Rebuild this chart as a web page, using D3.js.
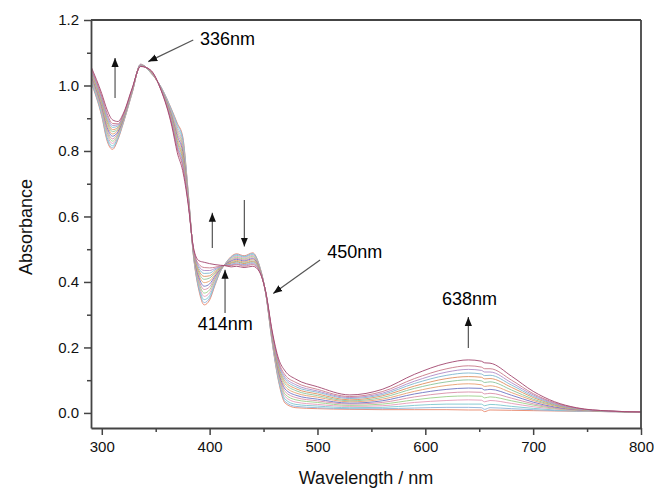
<!DOCTYPE html>
<html>
<head>
<meta charset="utf-8">
<script src="https://cdn.jsdelivr.net/npm/d3@7"></script>
<style>
  html, body { margin: 0; padding: 0; background: #fff; }
  svg { display: block; font-family: "Liberation Sans", Arial, sans-serif; }
</style>
</head>
<body>
<svg id="chart" width="654" height="488"></svg>
<script>
// ---- Data ----
const wavelengths = [290,300,305,310,315,320,328,336,345,355,365,370,375,380,385,390,395,400,405,410,414,420,425,432,440,446,452,458,464,470,480,500,530,560,590,620,640,652,655,660,680,700,720,740,770,800];

const scan0  = [1.010,0.905,0.830,0.805,0.835,0.885,0.975,1.065,1.040,0.995,0.925,0.885,0.845,0.680,0.480,0.375,0.330,0.345,0.390,0.432,0.453,0.478,0.486,0.480,0.489,0.452,0.365,0.215,0.095,0.030,0.016,0.013,0.011,0.010,0.010,0.010,0.009,0.009,0.004,0.009,0.008,0.007,0.006,0.005,0.004,0.003];
const scan1  = [1.012,0.909,0.835,0.810,0.838,0.887,0.976,1.065,1.040,0.995,0.923,0.881,0.840,0.678,0.481,0.380,0.337,0.351,0.393,0.433,0.453,0.476,0.484,0.478,0.487,0.451,0.365,0.217,0.099,0.035,0.020,0.016,0.013,0.013,0.015,0.017,0.017,0.016,0.011,0.016,0.013,0.010,0.007,0.006,0.004,0.003];
const scan2  = [1.016,0.913,0.841,0.816,0.842,0.889,0.977,1.064,1.041,0.994,0.919,0.874,0.832,0.675,0.483,0.386,0.346,0.358,0.398,0.434,0.453,0.474,0.481,0.476,0.484,0.450,0.366,0.219,0.103,0.042,0.026,0.021,0.016,0.017,0.023,0.027,0.027,0.027,0.022,0.026,0.020,0.014,0.009,0.006,0.004,0.003];
const scan3  = [1.020,0.919,0.849,0.823,0.846,0.891,0.978,1.064,1.042,0.993,0.915,0.867,0.824,0.672,0.485,0.393,0.356,0.367,0.403,0.436,0.452,0.472,0.478,0.473,0.481,0.448,0.366,0.222,0.109,0.050,0.033,0.026,0.020,0.022,0.032,0.038,0.040,0.039,0.034,0.038,0.029,0.019,0.012,0.007,0.004,0.003];
const scan4  = [1.023,0.925,0.857,0.830,0.850,0.893,0.979,1.063,1.042,0.992,0.911,0.860,0.816,0.669,0.487,0.400,0.366,0.376,0.408,0.437,0.452,0.469,0.475,0.470,0.478,0.446,0.366,0.225,0.115,0.057,0.040,0.032,0.023,0.027,0.040,0.050,0.052,0.051,0.046,0.049,0.037,0.024,0.014,0.008,0.005,0.003];
const scan5  = [1.027,0.930,0.864,0.837,0.855,0.896,0.980,1.063,1.043,0.991,0.907,0.853,0.807,0.666,0.489,0.407,0.377,0.385,0.413,0.439,0.452,0.466,0.472,0.467,0.474,0.445,0.367,0.228,0.120,0.065,0.047,0.037,0.027,0.032,0.049,0.061,0.064,0.063,0.058,0.060,0.045,0.028,0.016,0.009,0.005,0.003];
const scan6  = [1.031,0.936,0.872,0.845,0.859,0.898,0.982,1.062,1.044,0.991,0.903,0.845,0.799,0.662,0.491,0.415,0.387,0.394,0.418,0.440,0.452,0.464,0.469,0.464,0.471,0.443,0.367,0.230,0.126,0.073,0.054,0.042,0.030,0.037,0.058,0.072,0.076,0.075,0.070,0.072,0.054,0.033,0.018,0.010,0.005,0.003];
const scan7  = [1.035,0.941,0.879,0.852,0.864,0.901,0.983,1.061,1.044,0.990,0.899,0.838,0.790,0.659,0.493,0.422,0.398,0.403,0.423,0.442,0.451,0.461,0.466,0.461,0.468,0.442,0.368,0.233,0.131,0.081,0.061,0.048,0.034,0.042,0.066,0.084,0.089,0.086,0.081,0.083,0.062,0.038,0.021,0.011,0.005,0.003];
const scan8  = [1.039,0.947,0.887,0.859,0.868,0.903,0.984,1.061,1.045,0.989,0.895,0.831,0.782,0.656,0.495,0.429,0.408,0.412,0.428,0.443,0.451,0.459,0.463,0.458,0.464,0.440,0.368,0.236,0.137,0.089,0.068,0.053,0.037,0.047,0.075,0.095,0.101,0.098,0.093,0.095,0.070,0.042,0.023,0.012,0.005,0.003];
const scan9  = [1.042,0.952,0.894,0.865,0.872,0.905,0.985,1.060,1.045,0.988,0.892,0.825,0.775,0.653,0.497,0.435,0.417,0.419,0.432,0.445,0.451,0.457,0.461,0.456,0.462,0.439,0.368,0.238,0.142,0.096,0.074,0.058,0.040,0.052,0.082,0.105,0.111,0.109,0.104,0.105,0.078,0.047,0.025,0.012,0.005,0.003];
const scan10 = [1.046,0.957,0.900,0.872,0.876,0.907,0.986,1.060,1.046,0.988,0.888,0.818,0.767,0.650,0.499,0.442,0.426,0.427,0.437,0.446,0.451,0.454,0.458,0.453,0.459,0.437,0.369,0.241,0.147,0.103,0.080,0.063,0.044,0.056,0.090,0.115,0.122,0.119,0.114,0.115,0.085,0.051,0.027,0.013,0.005,0.003];
const scan11 = [1.049,0.962,0.907,0.878,0.880,0.909,0.987,1.059,1.046,0.987,0.885,0.812,0.760,0.648,0.500,0.448,0.435,0.435,0.441,0.447,0.451,0.452,0.455,0.451,0.456,0.436,0.369,0.243,0.152,0.109,0.086,0.067,0.047,0.060,0.097,0.125,0.133,0.130,0.125,0.125,0.092,0.055,0.029,0.014,0.006,0.003];
const scan12 = [1.052,0.967,0.914,0.884,0.883,0.911,0.988,1.059,1.047,0.986,0.881,0.806,0.753,0.645,0.502,0.454,0.444,0.443,0.445,0.449,0.450,0.450,0.453,0.448,0.453,0.434,0.369,0.246,0.157,0.116,0.093,0.072,0.050,0.065,0.105,0.135,0.144,0.140,0.135,0.135,0.100,0.059,0.031,0.015,0.006,0.003];
const scan13 = [1.058,0.975,0.925,0.895,0.890,0.915,0.990,1.058,1.048,0.985,0.875,0.795,0.740,0.640,0.505,0.465,0.460,0.456,0.453,0.451,0.450,0.446,0.448,0.444,0.448,0.432,0.370,0.250,0.165,0.128,0.103,0.080,0.055,0.072,0.118,0.152,0.162,0.158,0.153,0.152,0.112,0.066,0.034,0.016,0.006,0.003];

const scans = [scan0,scan1,scan2,scan3,scan4,scan5,scan6,scan7,scan8,scan9,scan10,scan11,scan12,scan13];
const scanColors = ["#e8866a","#8fb3d9","#7cc7cf","#e59ab8","#9ccf8a","#d88fa8","#6f74c2","#e8a070","#8cc49a","#e09060","#80b8d0","#b08cc8","#c97a8a","#a2466e"];

const xMajorTicks = [300,400,500,600,700,800];
const xMinorTicks = [350,450,550,650,750];
const yMajorTicks = [0.0,0.2,0.4,0.6,0.8,1.0,1.2];
const yMinorTicks = [0.1,0.3,0.5,0.7,0.9,1.1];

// annotation labels and their positions in data units (wavelength, absorbance)
const annotationLabels = ["336nm","414nm","450nm","638nm"];
const annotationTextPos = [[391,1.124],[389,0.253],[509,0.473],[615.5,0.330]];
// arrows: [fromW, fromA, toW, toA]
const arrows = [
  [384.8,1.139,343.1,1.073],
  [312.3,0.962,312.3,1.084],
  [402.5,0.504,402.5,0.611],
  [432.2,0.650,432.2,0.508],
  [414.3,0.305,414.3,0.437],
  [502.4,0.467,459.0,0.365],
  [639.9,0.198,639.9,0.293]
];

// ---- Layout ----
const svg = d3.select("#chart");
const plotL = 91, plotR = 641, plotT = 20, plotB = 428;
const x = d3.scaleLinear().domain([290, 800]).range([plotL, plotR]);
const y = d3.scaleLinear().domain([-0.046, 1.2]).range([plotB, plotT]);

const defs = svg.append("defs");
defs.append("marker").attr("id","ah").attr("viewBox","0 0 10 10").attr("refX",10).attr("refY",5)
  .attr("markerWidth",9).attr("markerHeight",9).attr("markerUnits","userSpaceOnUse").attr("orient","auto")
  .append("path").attr("d","M0,1 L10,5 L0,9 Z").attr("fill","#111");
defs.append("clipPath").attr("id","clip").append("rect")
  .attr("x",plotL).attr("y",plotT).attr("width",plotR-plotL).attr("height",plotB-plotT);

// curves
const line = d3.line().x(d => x(d[0])).y(d => y(d[1])).curve(d3.curveMonotoneX);
const g = svg.append("g").attr("clip-path","url(#clip)");
scans.forEach((s, k) => {
  g.append("path")
    .datum(wavelengths.map((w, i) => [w, s[i]]))
    .attr("d", line)
    .attr("fill","none")
    .attr("stroke", scanColors[k])
    .attr("stroke-width", 1)
    .attr("stroke-opacity", 0.9);
});

// axes
const axisColor = "#444";
function styleAxis(sel) {
  sel.select(".domain").attr("stroke", axisColor).attr("stroke-width", 1.8);
  sel.selectAll(".tick line").attr("stroke", axisColor).attr("stroke-width", 1.5);
  sel.selectAll(".tick text").attr("fill", "#111").style("font-size", "15px")
     .style("font-family", '"Liberation Sans", Arial, sans-serif');
}
const xAxis = svg.append("g").attr("transform", `translate(0,${plotB})`)
  .call(d3.axisBottom(x).tickValues(xMajorTicks).tickSize(7).tickSizeOuter(0).tickPadding(6).tickFormat(d3.format("d")));
styleAxis(xAxis);
const xMinor = svg.append("g").attr("transform", `translate(0,${plotB})`)
  .call(d3.axisBottom(x).tickValues(xMinorTicks).tickSize(4).tickFormat(""));
xMinor.select(".domain").remove();
xMinor.selectAll(".tick line").attr("stroke", axisColor).attr("stroke-width", 1.5);

const yAxis = svg.append("g").attr("transform", `translate(${plotL},0)`)
  .call(d3.axisLeft(y).tickValues(yMajorTicks).tickSize(7).tickSizeOuter(0).tickPadding(5).tickFormat(d3.format(".1f")));
styleAxis(yAxis);
const yMinor = svg.append("g").attr("transform", `translate(${plotL},0)`)
  .call(d3.axisLeft(y).tickValues(yMinorTicks).tickSize(4).tickFormat(""));
yMinor.select(".domain").remove();
yMinor.selectAll(".tick line").attr("stroke", axisColor).attr("stroke-width", 1.5);

// frame top & right
svg.append("line").attr("x1", plotL).attr("x2", plotR).attr("y1", plotT).attr("y2", plotT)
  .attr("stroke", axisColor).attr("stroke-width", 1.8);
svg.append("line").attr("x1", plotR).attr("x2", plotR).attr("y1", plotT).attr("y2", plotB)
  .attr("stroke", axisColor).attr("stroke-width", 1.8);

// axis titles
svg.append("text").attr("x", (plotL+plotR)/2).attr("y", 484).attr("text-anchor","middle")
  .style("font-size","18px").attr("fill","#111").text("Wavelength / nm");
svg.append("text").attr("transform", `translate(32,227) rotate(-90)`).attr("text-anchor","middle")
  .style("font-size","18px").attr("fill","#111").text("Absorbance");

// annotations
arrows.forEach(a => {
  svg.append("line")
    .attr("x1", x(a[0])).attr("y1", y(a[1])).attr("x2", x(a[2])).attr("y2", y(a[3]))
    .attr("stroke", "#555").attr("stroke-width", 1.2).attr("marker-end", "url(#ah)");
});
annotationLabels.forEach((t, i) => {
  svg.append("text").attr("x", x(annotationTextPos[i][0])).attr("y", y(annotationTextPos[i][1]))
    .style("font-size","18px").attr("fill","#000").text(t);
});
</script>
</body>
</html>
